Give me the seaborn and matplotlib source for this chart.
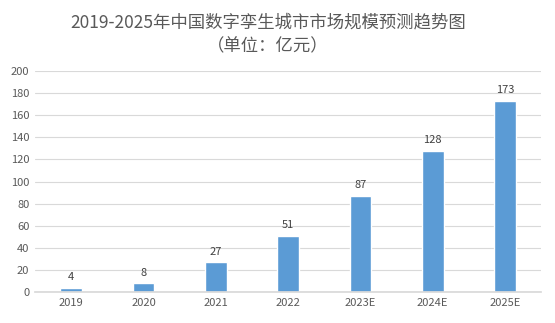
import matplotlib
matplotlib.use("Agg")
import matplotlib.pyplot as plt
import seaborn as sns
import pandas as pd

years = ["2019", "2020", "2021", "2022", "2023E", "2024E", "2025E"]
values = [4, 8, 27, 51, 87, 128, 173]
yticks = [0, 20, 40, 60, 80, 100, 120, 140, 160, 180, 200]
title1 = "2019-2025年中国数字孪生城市市场规模预测趋势图"
title2 = "（单位：亿元）"

sns.set_theme(style="white")
plt.rcParams['font.family'] = ['Noto Sans CJK SC', 'DejaVu Sans']

df = pd.DataFrame({"year": years, "value": values})

fig = plt.figure(figsize=(5.55, 3.23), dpi=100)
ax = fig.add_axes([0.063, 0.096, 0.912, 0.684])
sns.barplot(data=df, x="year", y="value", color="#5B9BD5", width=0.3, ax=ax, saturation=1)

ax.set_ylim(0, 200)
ax.set_yticks(yticks)
ax.set_xlim(-0.5, len(years) - 0.5)
ax.yaxis.grid(True, color="#D9D9D9", linewidth=0.8)
ax.set_axisbelow(True)
for s in ["top", "right", "left"]:
    ax.spines[s].set_visible(False)
ax.spines["bottom"].set_color("#D9D9D9")
ax.tick_params(axis="both", length=0, labelsize=8, labelcolor="#595959", pad=4)
ax.set_xlabel("")
ax.set_ylabel("")

for i, v in enumerate(values):
    ax.text(i, v + 5, str(v), ha="center", va="bottom", fontsize=8, color="#404040")

fig.text(0.483, 0.932, title1, ha="center", va="center", fontsize=12.5, color="#595959")
fig.text(0.483, 0.857, title2, ha="center", va="center", fontsize=12.5, color="#595959")

fig.savefig("out.png", dpi=100)
